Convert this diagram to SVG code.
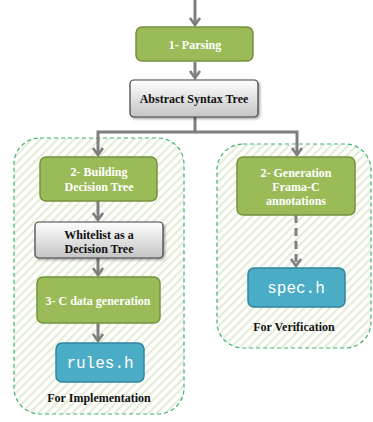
<svg xmlns="http://www.w3.org/2000/svg" width="373" height="422" viewBox="0 0 373 422">
<defs>
<pattern id="hatch" patternUnits="userSpaceOnUse" width="6" height="6" patternTransform="rotate(45)">
<rect width="6" height="6" fill="#ffffff"/>
<rect x="0" y="0" width="2.2" height="6" fill="#e4ecd6"/>
</pattern>
<linearGradient id="gray" x1="0" y1="0" x2="0" y2="1">
<stop offset="0" stop-color="#ffffff"/>
<stop offset="1" stop-color="#c4c4c4"/>
</linearGradient>
<marker id="arr" markerWidth="12" markerHeight="12" refX="8" refY="6" orient="auto" markerUnits="userSpaceOnUse" viewBox="0 0 12 12" overflow="visible">
<path d="M1,1 L8,6 L1,11" fill="none" stroke="#7f7f7f" stroke-width="2.6"/>
</marker>
<filter id="sh" x="-10%" y="-10%" width="130%" height="140%">
<feDropShadow dx="1.5" dy="1.5" stdDeviation="1" flood-color="#000" flood-opacity="0.35"/>
</filter>
</defs>
<style>
.cont{fill:url(#hatch);stroke:#3cb371;stroke-width:1.2;stroke-dasharray:4 3}
.green{fill:#9bbb59;stroke:#76923c;stroke-width:1.5}
.gray{fill:url(#gray);stroke:#404040;stroke-width:1.2}
.teal{fill:#4bacc6;stroke:#31859c;stroke-width:1.5}
.wt{font-family:'Liberation Serif','Times New Roman',serif;font-weight:bold;font-size:12px;fill:#ffffff;text-anchor:middle}
.bt{font-family:'Liberation Serif','Times New Roman',serif;font-weight:bold;font-size:12px;fill:#111111;text-anchor:middle}
.mono{font-family:'Liberation Mono','Courier New',monospace;font-size:16px;fill:#ffffff;text-anchor:middle}
.conn{fill:none;stroke:#7f7f7f;stroke-width:3}
</style>
<g id="containers">
<g id="impl-area"><rect class="cont" x="14" y="138" width="170" height="276" rx="26"/><text class="bt" x="99" y="402">For Implementation</text></g>
<g id="verif-area"><rect class="cont" x="217" y="144" width="154" height="204" rx="26"/><text class="bt" x="294" y="331">For Verification</text></g>
</g>
<g id="connectors">
<path class="conn" d="M195,0 V25" marker-end="url(#arr)"/>
<path class="conn" d="M195,62 V78" marker-end="url(#arr)"/>
<path class="conn" d="M195,117 V132 H98 V155" marker-end="url(#arr)"/>
<path class="conn" d="M195,132 H297 V155" marker-end="url(#arr)"/>
<path class="conn" d="M98,201 V220" marker-end="url(#arr)"/>
<path class="conn" d="M98,258 V275" marker-end="url(#arr)"/>
<path class="conn" d="M98,323 V341" marker-end="url(#arr)"/>
<path class="conn" d="M296,215 V266" stroke-dasharray="8 5" marker-end="url(#arr)"/>
</g>
<g id="parsing"><rect class="green" x="136" y="27" width="117" height="34" rx="6"/><text class="wt" x="195" y="48.5">1- Parsing</text></g>
<g id="ast"><rect class="gray" x="130" y="80" width="128" height="37" rx="4" filter="url(#sh)"/><text class="bt" x="194" y="103">Abstract Syntax Tree</text></g>
<g id="building"><rect class="green" x="40" y="157" width="117" height="44" rx="6"/><text class="wt" x="99" y="176">2- Building</text><text class="wt" x="99" y="190.5">Decision Tree</text></g>
<g id="whitelist"><rect class="gray" x="35" y="222" width="128" height="36" rx="4" filter="url(#sh)"/><text class="bt" x="99" y="239">Whitelist as a</text><text class="bt" x="99" y="253">Decision Tree</text></g>
<g id="cdata"><rect class="green" x="37" y="277" width="123" height="46" rx="6"/><text class="wt" x="98" y="305">3- C data generation</text></g>
<g id="rules"><rect class="teal" x="56" y="343" width="88" height="39" rx="6"/><text class="mono" x="100" y="368">rules.h</text></g>
<g id="generation"><rect class="green" x="237" y="157" width="118" height="58" rx="6"/><text class="wt" x="296" y="177">2- Generation</text><text class="wt" x="296" y="191">Frama-C</text><text class="wt" x="296" y="205">annotations</text></g>
<g id="spec"><rect class="teal" x="248" y="268" width="97" height="39" rx="6"/><text class="mono" x="296" y="293">spec.h</text></g>
</svg>
